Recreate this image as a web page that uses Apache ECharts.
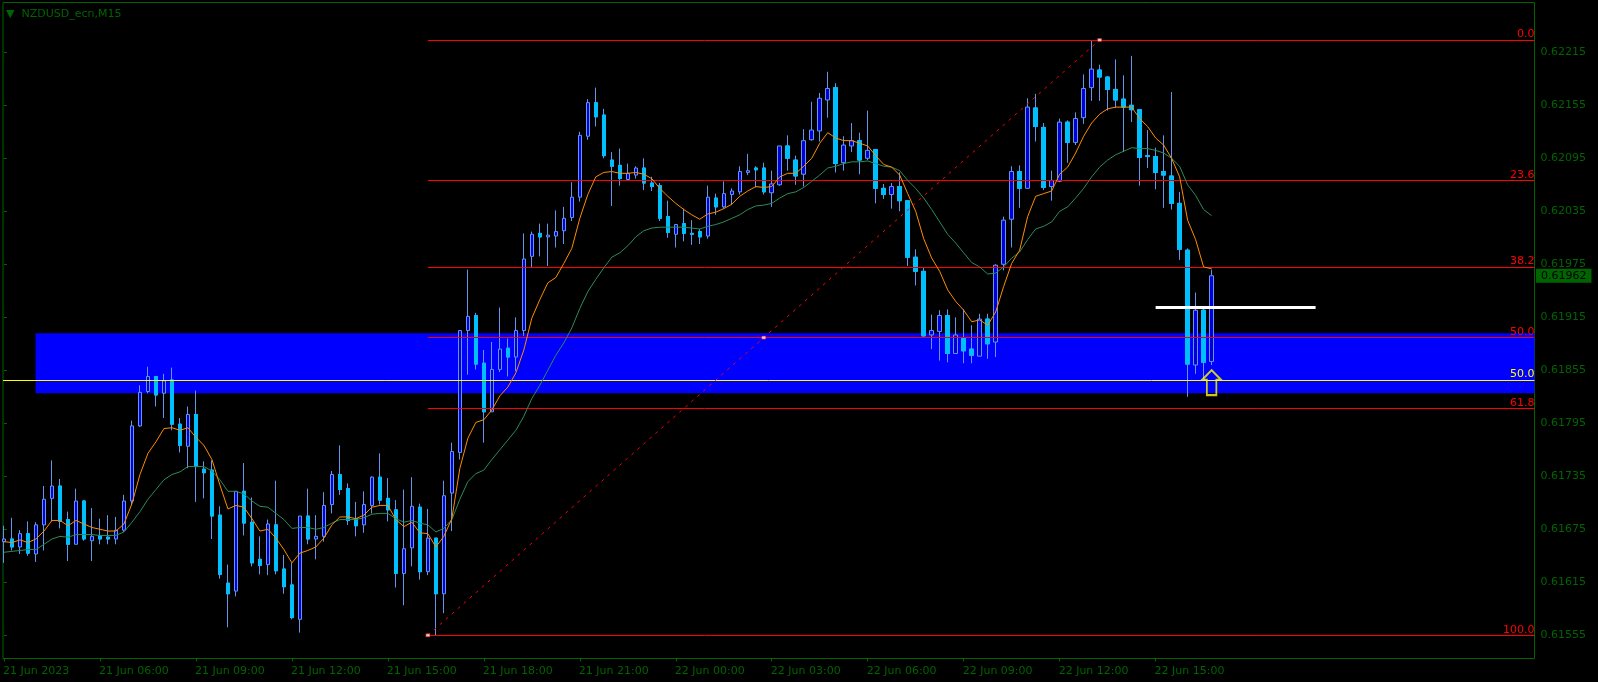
<!DOCTYPE html>
<html>
<head>
<meta charset="utf-8">
<title>NZDUSD_ecn,M15</title>
<style>
html,body{margin:0;padding:0;background:#000;}
#main{width:1598px;height:682px;}
</style>
<script src="https://cdn.jsdelivr.net/npm/echarts@6/dist/echarts.min.js"></script>
</head>
<body>
<div id="main"></div>
<script>
var opens=[0.61661,0.61664,0.61655,0.61670,0.61647,0.61680,0.61710,0.61724,0.61686,0.61658,0.61707,0.61662,0.61668,0.61666,0.61664,0.61674,0.61707,0.61792,0.61831,0.61848,
0.61829,0.61844,0.61794,0.61769,0.61805,0.61743,0.61742,0.61691,0.61614,0.61605,0.61718,0.61683,0.61641,0.61635,0.61680,0.61630,0.61612,0.61573,0.61690,0.61664,
0.61667,0.61703,0.61737,0.61721,0.61687,0.61680,0.61702,0.61734,0.61710,0.61697,0.61625,0.61654,0.61700,0.61627,0.61665,0.61602,0.61716,0.61762,0.61900,0.61917,
0.61863,0.61808,0.61856,0.61880,0.61870,0.61900,0.61984,0.62010,0.62006,0.62007,0.62013,0.62028,0.62051,0.62120,0.62158,0.62144,0.62093,0.62087,0.62071,0.62076,
0.62084,0.62067,0.62064,0.62029,0.62009,0.62021,0.62010,0.62012,0.62007,0.62050,0.62040,0.62054,0.62057,0.62079,0.62084,0.62084,0.62056,0.62065,0.62109,0.62093,
0.62077,0.62116,0.62126,0.62161,0.62175,0.62090,0.62109,0.62115,0.62095,0.62105,0.62061,0.62054,0.62063,0.62047,0.61983,0.61967,0.61895,0.61899,0.61917,0.61874,
0.61891,0.61879,0.61871,0.61913,0.61887,0.61975,0.62026,0.62080,0.62061,0.62152,0.62130,0.62063,0.62069,0.62136,0.62113,0.62141,0.62175,0.62195,0.62187,0.62173,
0.62162,0.62155,0.62150,0.62098,0.62097,0.62080,0.62075,0.62044,0.61991,0.61861,0.61923,0.61865];
var closes=[0.61664,0.61655,0.61670,0.61648,0.61680,0.61709,0.61724,0.61684,0.61658,0.61707,0.61664,0.61667,0.61664,0.61664,0.61674,0.61707,0.61792,0.61830,0.61848,0.61827,
0.61843,0.61794,0.61770,0.61805,0.61746,0.61739,0.61690,0.61624,0.61602,0.61718,0.61682,0.61637,0.61634,0.61681,0.61628,0.61610,0.61575,0.61690,0.61664,0.61667,
0.61702,0.61737,0.61720,0.61685,0.61679,0.61703,0.61734,0.61708,0.61697,0.61625,0.61653,0.61701,0.61627,0.61665,0.61602,0.61713,0.61763,0.61900,0.61916,0.61862,
0.61808,0.61856,0.61879,0.61870,0.61900,0.61981,0.62009,0.62006,0.62008,0.62012,0.62027,0.62051,0.62121,0.62158,0.62142,0.62098,0.62086,0.62072,0.62078,0.62084,
0.62067,0.62063,0.62027,0.62011,0.62020,0.62010,0.62009,0.62006,0.62051,0.62040,0.62055,0.62058,0.62080,0.62081,0.62082,0.62057,0.62066,0.62109,0.62095,0.62075,
0.62115,0.62127,0.62163,0.62174,0.62089,0.62110,0.62115,0.62093,0.62104,0.62061,0.62054,0.62063,0.62047,0.61983,0.61967,0.61894,0.61900,0.61917,0.61874,0.61895,
0.61877,0.61872,0.61913,0.61885,0.61974,0.62025,0.62080,0.62061,0.62153,0.62131,0.62062,0.62070,0.62136,0.62113,0.62140,0.62174,0.62196,0.62187,0.62173,0.62161,
0.62153,0.62150,0.62096,0.62097,0.62079,0.62076,0.62044,0.61992,0.61862,0.61923,0.61864,0.61962];
var highs=[0.61679,0.61688,0.61674,0.61684,0.61683,0.61724,0.61753,0.61732,0.61695,0.61721,0.61708,0.61699,0.61687,0.61691,0.61689,0.61714,0.61798,0.61838,0.61859,0.61848,
0.61851,0.61858,0.61801,0.61814,0.61832,0.61752,0.61753,0.61701,0.61635,0.61718,0.61750,0.61711,0.61667,0.61686,0.61730,0.61646,0.61637,0.61690,0.61721,0.61691,
0.61717,0.61741,0.61770,0.61727,0.61706,0.61718,0.61735,0.61761,0.61733,0.61708,0.61720,0.61734,0.61704,0.61698,0.61665,0.61730,0.61773,0.61900,0.61969,0.61920,
0.61878,0.61887,0.61926,0.61891,0.61915,0.62010,0.62012,0.62021,0.62021,0.62036,0.62040,0.62068,0.62125,0.62162,0.62175,0.62151,0.62102,0.62106,0.62089,0.62086,
0.62095,0.62074,0.62067,0.62047,0.62020,0.62038,0.62025,0.62015,0.62064,0.62055,0.62069,0.62061,0.62086,0.62100,0.62086,0.62090,0.62081,0.62109,0.62121,0.62098,
0.62128,0.62159,0.62169,0.62193,0.62180,0.62120,0.62135,0.62124,0.62149,0.62105,0.62066,0.62067,0.62079,0.62047,0.61992,0.61971,0.61918,0.61923,0.61924,0.61915,
0.61924,0.61906,0.61919,0.61919,0.61975,0.62029,0.62086,0.62087,0.62163,0.62168,0.62135,0.62081,0.62140,0.62138,0.62147,0.62190,0.62228,0.62201,0.62188,0.62207,
0.62189,0.62211,0.62150,0.62127,0.62107,0.62121,0.62170,0.62057,0.61993,0.61943,0.61925,0.61969];
var lows=[0.61637,0.61651,0.61647,0.61645,0.61638,0.61651,0.61684,0.61676,0.61639,0.61658,0.61662,0.61639,0.61658,0.61658,0.61658,0.61672,0.61702,0.61791,0.61829,0.61814,
0.61801,0.61787,0.61762,0.61744,0.61706,0.61710,0.61664,0.61619,0.61564,0.61599,0.61668,0.61633,0.61624,0.61623,0.61624,0.61602,0.61573,0.61558,0.61658,0.61641,
0.61661,0.61693,0.61714,0.61680,0.61667,0.61671,0.61693,0.61703,0.61684,0.61609,0.61589,0.61633,0.61618,0.61623,0.61555,0.61580,0.61673,0.61754,0.61850,0.61856,
0.61773,0.61808,0.61853,0.61848,0.61854,0.61894,0.61972,0.61984,0.61973,0.61994,0.61998,0.62024,0.62046,0.62116,0.62131,0.62095,0.62041,0.62064,0.62070,0.62072,
0.62059,0.62058,0.62024,0.62005,0.61994,0.62001,0.61997,0.61998,0.62004,0.62031,0.62038,0.62042,0.62054,0.62076,0.62062,0.62054,0.62040,0.62064,0.62081,0.62065,
0.62063,0.62115,0.62114,0.62141,0.62079,0.62081,0.62102,0.62077,0.62093,0.62044,0.62049,0.62038,0.62035,0.61973,0.61951,0.61893,0.61879,0.61866,0.61864,0.61874,
0.61863,0.61863,0.61871,0.61868,0.61870,0.61968,0.61994,0.62039,0.62061,0.62114,0.62059,0.62047,0.62068,0.62090,0.62110,0.62134,0.62160,0.62160,0.62149,0.62152,
0.62102,0.62136,0.62064,0.62084,0.62060,0.62039,0.62037,0.61980,0.61825,0.61851,0.61845,0.61861];
// fast and slow moving averages
var maFast=[0.61661,0.61660,0.61663,0.61660,0.61664,0.61673,0.61685,0.61685,0.61679,0.61685,0.61681,0.61677,0.61675,0.61673,0.61673,0.61681,0.61704,0.61737,0.61761,0.61774,
0.61789,0.61790,0.61787,0.61790,0.61779,0.61770,0.61754,0.61725,0.61698,0.61702,0.61700,0.61687,0.61673,0.61675,0.61665,0.61652,0.61637,0.61648,0.61651,0.61655,
0.61665,0.61680,0.61689,0.61689,0.61687,0.61691,0.61700,0.61702,0.61702,0.61686,0.61678,0.61683,0.61671,0.61670,0.61655,0.61667,0.61687,0.61744,0.61778,0.61796,
0.61799,0.61810,0.61826,0.61836,0.61852,0.61878,0.61914,0.61935,0.61954,0.61960,0.61976,0.61993,0.62027,0.62054,0.62074,0.62079,0.62080,0.62078,0.62078,0.62079,
0.62077,0.62072,0.62061,0.62052,0.62044,0.62037,0.62031,0.62026,0.62032,0.62034,0.62038,0.62043,0.62052,0.62058,0.62063,0.62062,0.62063,0.62074,0.62078,0.62078,
0.62086,0.62095,0.62112,0.62124,0.62118,0.62115,0.62115,0.62112,0.62109,0.62098,0.62088,0.62085,0.62076,0.62055,0.62035,0.62004,0.61982,0.61967,0.61946,0.61933,
0.61923,0.61910,0.61912,0.61906,0.61921,0.61950,0.61976,0.61991,0.62029,0.62052,0.62055,0.62058,0.62077,0.62085,0.62101,0.62120,0.62135,0.62145,0.62151,0.62153,
0.62153,0.62153,0.62140,0.62131,0.62118,0.62110,0.62095,0.62074,0.62025,0.62003,0.61972,0.61970];
var maSlow=[0.61649,0.61650,0.61651,0.61652,0.61652,0.61658,0.61664,0.61667,0.61666,0.61669,0.61669,0.61669,0.61668,0.61668,0.61668,0.61672,0.61683,0.61695,0.61709,0.61720,
0.61731,0.61737,0.61740,0.61746,0.61746,0.61746,0.61741,0.61731,0.61718,0.61718,0.61715,0.61707,0.61701,0.61700,0.61693,0.61686,0.61676,0.61677,0.61677,0.61675,
0.61677,0.61682,0.61686,0.61686,0.61686,0.61688,0.61692,0.61693,0.61693,0.61687,0.61683,0.61685,0.61682,0.61680,0.61672,0.61676,0.61686,0.61709,0.61729,0.61738,
0.61742,0.61754,0.61765,0.61776,0.61787,0.61803,0.61823,0.61838,0.61855,0.61872,0.61886,0.61903,0.61925,0.61944,0.61958,0.61971,0.61983,0.61988,0.61996,0.62006,
0.62013,0.62016,0.62017,0.62017,0.62017,0.62017,0.62016,0.62015,0.62018,0.62020,0.62023,0.62027,0.62031,0.62037,0.62041,0.62042,0.62044,0.62050,0.62055,0.62057,
0.62062,0.62069,0.62076,0.62084,0.62086,0.62089,0.62091,0.62091,0.62092,0.62089,0.62086,0.62085,0.62081,0.62070,0.62061,0.62050,0.62037,0.62023,0.62009,0.61999,
0.61988,0.61977,0.61972,0.61964,0.61965,0.61972,0.61982,0.61989,0.62003,0.62015,0.62018,0.62023,0.62035,0.62040,0.62050,0.62061,0.62074,0.62085,0.62093,0.62099,
0.62103,0.62107,0.62106,0.62106,0.62104,0.62101,0.62095,0.62086,0.62065,0.62053,0.62037,0.62030];

var priceTicks=[0.62215,0.62155,0.62095,0.62035,0.61975,0.61915,0.61855,0.61795,0.61735,0.61675,0.61615,0.61555];
var timeBars=[0,12,24,36,48,60,72,84,96,108,120,132,144];
var timeLabels=['21 Jun 2023','21 Jun 06:00','21 Jun 09:00','21 Jun 12:00','21 Jun 15:00','21 Jun 18:00','21 Jun 21:00','22 Jun 00:00','22 Jun 03:00','22 Jun 06:00','22 Jun 09:00','22 Jun 12:00','22 Jun 15:00'];

var fibNames=['0.0','23.6','38.2','50.0','61.8','100.0'];
var fibLevels=[0.62229,0.62070,0.61972,0.61892,0.61812,0.61555];
var fibStartBar=53, fibMidBar=95, fibEndBar=137;
var zoneTop=0.61897, zoneBottom=0.61829, zoneStartBar=3.94;
var yellowLevel=0.61844;
var whiteLevel=0.61926, whiteStartBar=144, whiteEndBar=164;
var arrowBar=151, arrowPrice=0.61841;
var lastPrice=0.61962;

var xMin=-0.125, xMax=191.375;
var yMin=0.615287, yMax=0.622714;
var greenText='#006400';
var font='"DejaVu Sans"';

var allBars=[], downBodies=[];
for(var i=0;i<opens.length;i++){
    allBars.push([i,opens[i],closes[i],lows[i],highs[i]]);
    if(closes[i]<opens[i]){
        downBodies.push([i,opens[i],closes[i],closes[i],opens[i]]);
    }
}
function pairs(arr){
    return arr.map(function(v,i){return [i,v];});
}
var fibLines=fibLevels.map(function(v,i){
    return [{name:fibNames[i],coord:[fibStartBar,v]},{coord:[xMax,v]}];
});
// labels sit one pixel left of their tick
var labelBars=timeBars.map(function(b){return b-0.125;});

var myChart=echarts.init(document.getElementById('main'));
var option={
    animation:false,
    backgroundColor:'#000000',
    title:{
        text:'▼  NZDUSD_ecn,M15',
        left:1,
        top:4,
        textStyle:{color:greenText,fontSize:11,fontWeight:'normal',fontFamily:font}
    },
    grid:{
        left:2.5,top:2.5,width:1532,height:656,
        show:true,borderColor:greenText,borderWidth:1,backgroundColor:'#000000'
    },
    xAxis:{
        type:'value',min:xMin,max:xMax,
        splitLine:{show:false},
        axisLine:{show:false},
        axisTick:{show:true,length:3,customValues:timeBars,lineStyle:{color:greenText}},
        axisLabel:{
            show:true,customValues:labelBars,align:'left',margin:7,
            color:greenText,fontSize:11,fontFamily:font,
            formatter:function(v){return timeLabels[labelBars.indexOf(v)];}
        }
    },
    yAxis:{
        type:'value',position:'right',min:yMin,max:yMax,
        splitLine:{show:false},
        axisLine:{show:false},
        axisTick:{show:true,length:3,customValues:priceTicks,lineStyle:{color:greenText}},
        axisLabel:{
            show:true,customValues:priceTicks,margin:6,
            color:greenText,fontSize:11,fontFamily:font,
            formatter:function(v){return v.toFixed(5);}
        }
    },
    series:[
        {
            // blue zone behind everything
            type:'line',data:[],z:1,silent:true,
            markArea:{
                silent:true,
                itemStyle:{color:'#0000FF'},
                data:[[{coord:[zoneStartBar,zoneTop]},{coord:[xMax,zoneBottom]}]]
            }
        },
        {
            type:'candlestick',name:'bars',data:allBars,z:3,barWidth:4,
            itemStyle:{color:'#0000D8',color0:'#00BFFF',borderColor:'#6495ED',borderColor0:'#6495ED',borderWidth:1},
            markPoint:{
                silent:true,
                symbol:'rect',symbolSize:1,
                itemStyle:{color:'rgba(0,0,0,0)'},
                label:{
                    show:true,position:'right',distance:1,
                    formatter:function(){return lastPrice.toFixed(5);},
                    color:'#000000',fontSize:11,fontFamily:font,
                    backgroundColor:greenText,padding:[2,5,1,5]
                },
                data:[{coord:[xMax,lastPrice]}]
            }
        },
        {
            // down bars have a solid body, no outline of the wick colour
            type:'candlestick',name:'down bodies',data:downBodies,z:4,barWidth:4,silent:true,
            itemStyle:{color:'#00BFFF',color0:'#00BFFF',borderColor:'#00BFFF',borderColor0:'#00BFFF',borderColorDoji:'#00BFFF',borderWidth:1}
        },
        {
            type:'line',name:'slow',data:pairs(maSlow),z:5,showSymbol:false,silent:true,
            lineStyle:{color:'#2E8B57',width:1}
        },
        {
            type:'line',name:'fast',data:pairs(maFast),z:6,showSymbol:false,silent:true,
            lineStyle:{color:'#FF8C00',width:1}
        },
        {
            // fibo levels with their names at the right end
            type:'line',data:[],z:7,silent:true,
            markLine:{
                silent:true,symbol:'none',
                lineStyle:{color:'#FF0000',width:1,type:'solid'},
                label:{show:true,position:'insideEndTop',distance:0,formatter:'{b}',color:'#FF0000',fontSize:11,fontFamily:font},
                data:fibLines
            }
        },
        {
            // fibo trend line
            type:'line',data:[[fibStartBar,fibLevels[5]],[fibEndBar,fibLevels[0]]],z:7,showSymbol:false,silent:true,
            lineStyle:{color:'#FF0000',width:1,type:[3,5]}
        },
        {
            type:'scatter',z:8,silent:true,
            data:[[fibStartBar,fibLevels[5]],[fibMidBar,fibLevels[3]],[fibEndBar,fibLevels[0]]],
            symbol:'rect',symbolSize:[4,3],
            itemStyle:{color:'#FFFFFF',borderColor:'#FF0000',borderWidth:0.6}
        },
        {
            // yellow level
            type:'line',data:[],z:9,silent:true,
            markLine:{
                silent:true,symbol:'none',
                lineStyle:{color:'#FFFF00',width:1,type:'solid'},
                label:{show:true,position:'insideEndTop',distance:0,formatter:'{b}',color:'#FFFF00',fontSize:11,fontFamily:font},
                data:[[{name:'50.0',coord:[xMin,yellowLevel]},{coord:[xMax,yellowLevel]}]]
            }
        },
        {
            // white level
            type:'line',data:[[whiteStartBar,whiteLevel],[whiteEndBar,whiteLevel]],z:10,showSymbol:false,silent:true,
            lineStyle:{color:'#FFFFFF',width:3}
        },
        {
            // up arrow at the last bar
            type:'scatter',z:11,silent:true,
            data:[[arrowBar,arrowPrice]],
            symbol:'path://M10 0 L20 10 L15 10 L15 26 L5 26 L5 10 L0 10 Z',
            symbolSize:[19,25],
            itemStyle:{color:'rgba(0,0,0,0)',borderColor:'#FFFF00',borderWidth:2}
        }
    ]
};
myChart.setOption(option);
</script>
</body>
</html>
